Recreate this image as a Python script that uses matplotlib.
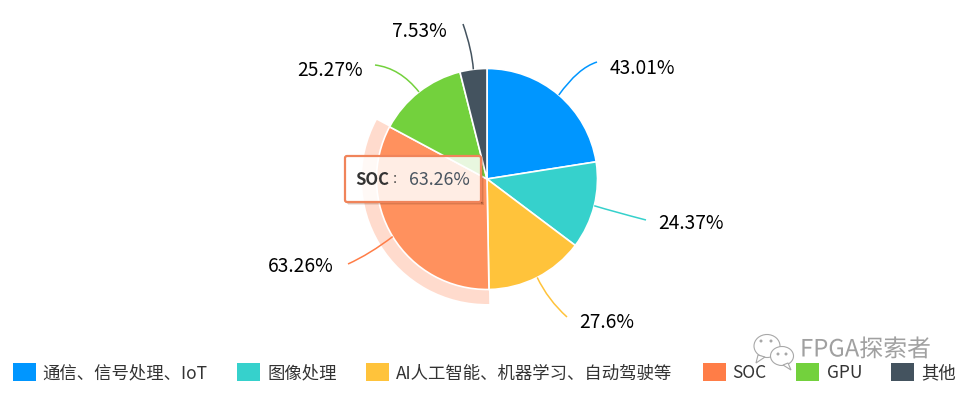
import numpy as np
import matplotlib
matplotlib.use("Agg")
import matplotlib.pyplot as plt
from matplotlib.patches import Wedge, Rectangle, FancyBboxPatch, PathPatch, Ellipse, Polygon
from matplotlib.path import Path
import matplotlib.patheffects as pe

plt.rcParams['font.family'] = ['Noto Sans CJK SC', 'DejaVu Sans']

categories = ['通信、信号处理、IoT', '图像处理', 'AI人工智能、机器学习、自动驾驶等', 'SOC', 'GPU', '其他']
values = [43.01, 24.37, 27.6, 63.26, 25.27, 7.53]
value_labels = ['43.01%', '24.37%', '27.6%', '63.26%', '25.27%', '7.53%']
colors = ['#0096FF', '#36D1CC', '#FFC33B', '#FF7D47', '#73D13D', '#44535F']

W, H = 962, 394
cx, cy, R = 487, 179, 110.5
ring_R = 125
highlight = 3
highlight_color = '#FF915E'
line_ends = [(597, 62), (646, 220), (567, 317), (348, 264), (375, 65), (463, 24)]
line_ctrl = [(578, 68), (615, 212), (548, 300), (370, 254), (400, 68), (472, 50)]
label_pos = [(642, 68.5), (691, 223.5), (607, 322.5), (301, 266.5), (330, 70.5), (419, 31.5)]
legend_sw = [13, 237, 366, 703, 796, 891]
legend_tx = [42, 268, 396, 732, 827, 921]

fig = plt.figure(figsize=(W / 100, H / 100), dpi=100, facecolor='white')
ax = fig.add_axes([0, 0, 1, 1])
ax.set_xlim(0, W)
ax.set_ylim(H, 0)
ax.axis('off')

total = sum(values)
angle = 0.0
mids = []
for i, v in enumerate(values):
    sweep = v / total * 360
    t1, t2 = angle - 90, angle + sweep - 90
    if i == highlight:
        ax.add_patch(Wedge((cx, cy), ring_R, t1, t2, width=ring_R - R, facecolor=colors[i], alpha=0.27, lw=0, zorder=1))
    fc = highlight_color if i == highlight else colors[i]
    ax.add_patch(Wedge((cx, cy), R, t1, t2, facecolor=fc, edgecolor='white', lw=1.2, zorder=2))
    mids.append(angle + sweep / 2)
    angle += sweep

for i, m in enumerate(mids):
    a = np.radians(m)
    start = (cx + R * np.sin(a), cy - R * np.cos(a))
    p = Path([start, line_ctrl[i], line_ends[i]], [Path.MOVETO, Path.CURVE3, Path.CURVE3])
    ax.add_patch(PathPatch(p, fc='none', ec=colors[i], lw=1.1, zorder=3))
    ax.text(label_pos[i][0], label_pos[i][1], value_labels[i], fontsize=13.8, color='black', ha='center', va='center', zorder=4)

# tooltip with a soft shadow along its right and bottom edges
for off, al in [(3, 0.12), (2, 0.18), (1, 0.28)]:
    ax.add_patch(Rectangle((345 + off, 202), 136, off, fc='#7a3a20', ec='none', alpha=al, zorder=5))
    ax.add_patch(Rectangle((481, 156 + off), off, 46, fc='#7a3a20', ec='none', alpha=al, zorder=5))
ax.add_patch(FancyBboxPatch((345, 156), 136, 46, boxstyle='round,pad=0,rounding_size=2',
                            fc=(1, 1, 1, 0.84), ec='#F0845A', lw=1.6, zorder=6))
ax.text(355, 179.5, 'SOC', fontsize=12, fontweight='bold', color='#333333', ha='left', va='center', zorder=7)
ax.text(392, 179.5, '：', fontsize=9, color='#444444', ha='left', va='center', zorder=7)
ax.text(409, 179.5, value_labels[highlight], fontsize=12.8, color='#4A5560', ha='left', va='center', zorder=7)

# legend
for i, c in enumerate(categories):
    ax.add_patch(Rectangle((legend_sw[i], 363), 23, 18, fc=colors[i], ec='none', zorder=3))
    ax.text(legend_tx[i], 373.5, c, fontsize=12.5, color='#333333', ha='left', va='center', zorder=3)

# watermark
icon = dict(fc='white', ec='#A8A8A8', lw=0.8, zorder=8)
ax.add_patch(Ellipse((767, 346), 26, 23, **icon))
ax.add_patch(Polygon([(758, 355), (756, 363), (765, 357)], closed=True, **icon))
ax.add_patch(Ellipse((782, 356), 23, 19, **icon))
ax.add_patch(Polygon([(788, 363), (791, 370), (783, 365)], closed=True, **icon))
for x, y in [(761, 341), (771, 341), (778, 354), (786, 354)]:
    ax.add_patch(Ellipse((x, y), 3, 3, fc='#A8A8A8', ec='none', zorder=9))
ax.text(800, 350, 'FPGA探索者', fontsize=17.2, fontweight='light', color='#A0A0A0', ha='left', va='center', zorder=9,
        path_effects=[pe.withStroke(linewidth=1.5, foreground='white')])

fig.savefig('out.png', dpi=100, facecolor='white')
